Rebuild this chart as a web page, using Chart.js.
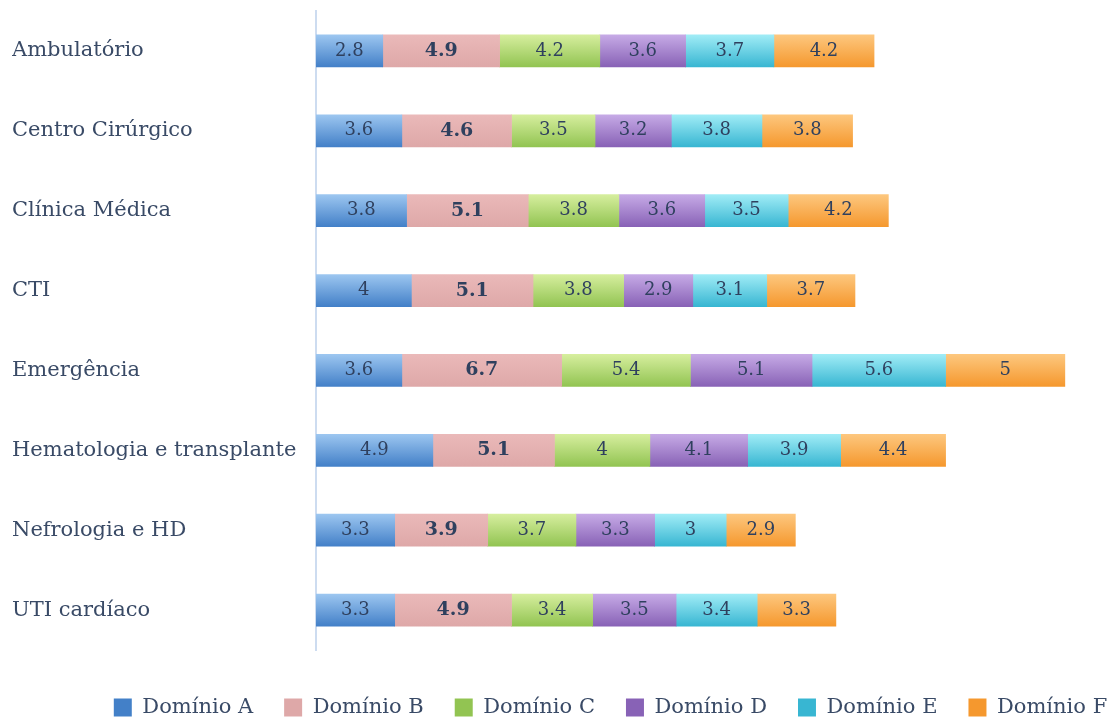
<!DOCTYPE html>
<html>
<head>
<meta charset="utf-8">
<script src="https://cdn.jsdelivr.net/npm/chart.js@4"></script>
<style>
  html, body { margin: 0; padding: 0; background: #fff; }
  #wrap { width: 1114px; height: 719px; position: relative; }
</style>
</head>
<body>
<div id="wrap"><canvas id="chart"></canvas></div>
<script>
// Stacked horizontal bars, one row per unit, six domains.
const units = ['Ambulatório', 'Centro Cirúrgico', 'Clínica Médica', 'CTI', 'Emergência',
  'Hematologia e transplante', 'Nefrologia e HD', 'UTI cardíaco'];

const dominioA = [2.8, 3.6, 3.8, 4, 3.6, 4.9, 3.3, 3.3];
const dominioB = [4.9, 4.6, 5.1, 5.1, 6.7, 5.1, 3.9, 4.9];
const dominioC = [4.2, 3.5, 3.8, 3.8, 5.4, 4, 3.7, 3.4];
const dominioD = [3.6, 3.2, 3.6, 2.9, 5.1, 4.1, 3.3, 3.5];
const dominioE = [3.7, 3.8, 3.5, 3.1, 5.6, 3.9, 3, 3.4];
const dominioF = [4.2, 3.8, 4.2, 3.7, 5, 4.4, 2.9, 3.3];

const seriesNames = ['Domínio A', 'Domínio B', 'Domínio C', 'Domínio D', 'Domínio E', 'Domínio F'];
const seriesValues = [dominioA, dominioB, dominioC, dominioD, dominioE, dominioF];
// top / bottom colour of each bar's gradient
const seriesColors = [
  ['#9cc6f0', '#4380c8'],
  ['#eab9b9', '#dea8a8'],
  ['#d6ee9e', '#92c452'],
  ['#c6aae6', '#8862b6'],
  ['#a0ecf6', '#38b6d2'],
  ['#fdc77e', '#f5982e'],
];
const boldSeries = 1;

const FONT = "'DejaVu Serif', serif";
const TEXT = '#394a66';
const BAR_H = 32;

function barGradient(ctx, colors) {
  const chart = ctx.chart;
  const y = chart.scales.y;
  if (!y || ctx.dataIndex === undefined) return colors[1];
  const cy = y.getPixelForValue(ctx.dataIndex);
  if (!isFinite(cy)) return colors[1];
  const g = chart.ctx.createLinearGradient(0, cy - BAR_H / 2, 0, cy + BAR_H / 2);
  g.addColorStop(0, colors[0]);
  g.addColorStop(1, colors[1]);
  return g;
}

const datasets = seriesNames.map((name, i) => ({
  label: name,
  data: seriesValues[i],
  backgroundColor: (ctx) => barGradient(ctx, seriesColors[i]),
  borderWidth: 0,
  barThickness: BAR_H,
}));

// value labels drawn in the middle of each segment
const valueLabels = {
  id: 'valueLabels',
  afterDatasetsDraw(chart) {
    const ctx = chart.ctx;
    ctx.save();
    ctx.textAlign = 'center';
    ctx.textBaseline = 'middle';
    ctx.fillStyle = '#2f405e';
    chart.data.datasets.forEach((ds, i) => {
      ctx.font = i === boldSeries ? 'bold 19px ' + FONT : '18px ' + FONT;
      chart.getDatasetMeta(i).data.forEach((bar, j) => {
        const x = (bar.x + bar.base) / 2;
        ctx.fillText(String(ds.data[j]), x, bar.y);
      });
    });
    ctx.restore();
  }
};

// nudge the legend row to where the reference has it
const legendShift = {
  id: 'legendShift',
  afterLayout(chart) {
    const lg = chart.legend;
    lg.left += 53; lg.right += 53;
    lg.top += 16; lg.bottom += 16;
  }
};

new Chart(document.getElementById('chart'), {
  type: 'bar',
  data: { labels: units, datasets },
  plugins: [valueLabels, legendShift],
  options: {
    indexAxis: 'y',
    responsive: true,
    maintainAspectRatio: false,
    animation: false,
    layout: { padding: { left: 12, right: 11, top: 11, bottom: 7 } },
    plugins: {
      tooltip: { enabled: false },
      legend: {
        position: 'bottom',
        labels: {
          color: TEXT,
          font: { family: FONT, size: 21 },
          boxWidth: 18,
          boxHeight: 18,
          padding: 31,
          generateLabels(chart) {
            return chart.data.datasets.map((ds, i) => ({
              text: ds.label,
              fillStyle: seriesColors[i][1],
              strokeStyle: seriesColors[i][1],
              lineWidth: 0,
              fontColor: TEXT,
              datasetIndex: i,
              hidden: false,
            }));
          }
        }
      }
    },
    scales: {
      x: {
        stacked: true,
        display: false,
        min: 0,
        max: 33,
      },
      y: {
        stacked: true,
        grid: { display: false },
        border: { color: '#cddcf0', width: 2 },
        ticks: {
          crossAlign: 'far',
          color: TEXT,
          font: { family: FONT, size: 21 },
          padding: 8,
        },
        afterFit(scale) {
          scale.width = 304;
          scale.paddingTop = 0;
          scale.paddingBottom = 0;
        },
      }
    }
  }
});
</script>
</body>
</html>
